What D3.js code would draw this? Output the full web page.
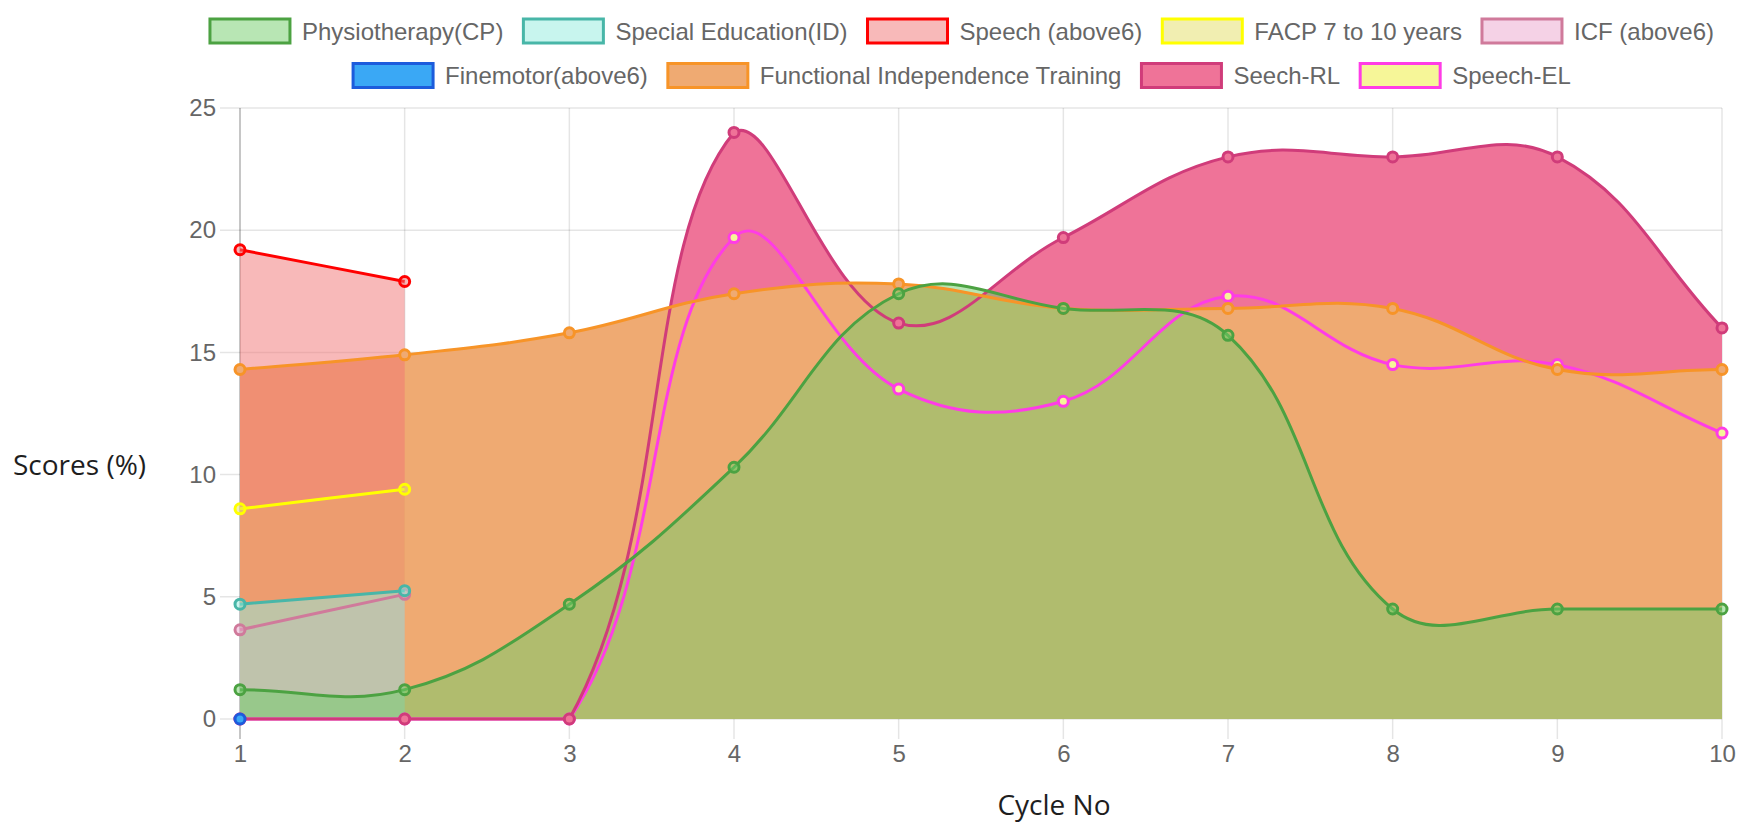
<!DOCTYPE html>
<html>
<head>
<meta charset="utf-8">
<script src="https://cdn.jsdelivr.net/npm/d3@7"></script>
<style>
  body { margin: 0; background: #fff; }
  svg text { font-family: "Liberation Sans", Arial, Helvetica, sans-serif; }
  .title { font-family: "Open Sans", "Noto Sans", sans-serif !important; font-size: 28px; fill: #1e1e1e; }
</style>
</head>
<body>
<div id="chart"></div>
<script>
// Chart values
const cycles = [1, 2, 3, 4, 5, 6, 7, 8, 9, 10];
const physiotherapyCP = [1.2, 1.2, 4.7, 10.3, 17.4, 16.8, 15.7, 4.5, 4.5, 4.5];
const specialEducationID = [4.7, 5.25];
const speechAbove6 = [19.2, 17.9];
const facp7to10 = [8.6, 9.4];
const icfAbove6 = [3.65, 5.1];
const finemotorAbove6 = [0];
const functionalIndependence = [14.3, 14.9, 15.8, 17.4, 17.8, 16.8, 16.8, 16.8, 14.3, 14.3];
const seechRL = [0, 0, 0, 24, 16.2, 19.7, 23, 23, 23, 16];
const speechEL = [0, 0, 0, 19.7, 13.5, 13, 17.3, 14.5, 14.5, 11.7];
const yTicks = [0, 5, 10, 15, 20, 25];

// Series labels + styling
const series = [
  { label: "Physiotherapy(CP)", values: physiotherapyCP, stroke: "rgb(76,162,66)", fill: "rgba(113,205,105,0.5)" },
  { label: "Special Education(ID)", values: specialEducationID, stroke: "rgb(72,182,168)", fill: "rgba(145,235,221,0.5)" },
  { label: "Speech (above6)", values: speechAbove6, stroke: "#ff0000", fill: "rgba(241,115,115,0.5)" },
  { label: "FACP 7 to 10 years", values: facp7to10, stroke: "#ffff00", fill: "rgba(227,222,100,0.5)" },
  { label: "ICF (above6)", values: icfAbove6, stroke: "rgb(208,122,155)", fill: "rgba(235,165,205,0.5)" },
  { label: "Finemotor(above6)", values: finemotorAbove6, stroke: "rgb(28,92,220)", fill: "rgb(58,168,245)" },
  { label: "Functional Independence Training", values: functionalIndependence, stroke: "rgb(247,148,40)", fill: "rgb(239,170,114)" },
  { label: "Seech-RL", values: seechRL, stroke: "rgb(208,60,122)", fill: "rgb(239,115,152)" },
  { label: "Speech-EL", values: speechEL, stroke: "rgb(255,60,230)", fill: "rgb(246,246,152)" }
];

const width = 1743;
const height = 822;
const area = { left: 240, right: 1722, top: 108, bottom: 719 };
const tension = 0.4;

const svg = d3.select("#chart")
  .append("svg")
  .attr("width", width)
  .attr("height", height);

const x = d3.scaleLinear().domain([1, 10]).range([area.left, area.right]);
const y = d3.scaleLinear().domain([0, 25]).range([area.bottom, area.top]);

// Grid lines
const grid = svg.append("g");
grid.selectAll(".vgrid")
  .data(cycles)
  .enter()
  .append("line")
  .attr("x1", d => x(d)).attr("x2", d => x(d))
  .attr("y1", area.top).attr("y2", area.bottom + 20)
  .attr("stroke", (d, i) => i === 0 ? "rgba(0,0,0,0.3)" : "rgba(0,0,0,0.1)")
  .attr("stroke-width", 1.5);
grid.selectAll(".hgrid")
  .data(yTicks)
  .enter()
  .append("line")
  .attr("x1", area.left - 20).attr("x2", area.right)
  .attr("y1", d => y(d)).attr("y2", d => y(d))
  .attr("stroke", "rgba(0,0,0,0.1)")
  .attr("stroke-width", 1.5);

// Axes (labels only, grid drawn above)
const yAxis = svg.append("g")
  .attr("transform", `translate(${area.left},0)`)
  .call(d3.axisLeft(y).tickValues(yTicks).tickSize(20).tickPadding(4));
const xAxis = svg.append("g")
  .attr("transform", `translate(0,${area.bottom})`)
  .call(d3.axisBottom(x).tickValues(cycles).tickSize(20).tickPadding(6));
[yAxis, xAxis].forEach(ax => {
  ax.select(".domain").remove();
  ax.selectAll("line").remove();
  ax.selectAll("text")
    .attr("fill", "#666")
    .style("font-size", "24px");
});

// Chart.js style spline (tension 0.4, control points capped to chart area)
function splinePath(values, closeArea) {
  const pts = values.map((v, i) => [x(cycles[i]), y(v)]);
  const cap = (px, py) => [
    Math.max(area.left, Math.min(area.right, px)),
    Math.max(area.top, Math.min(area.bottom, py))
  ];
  const ctrl = pts.map((p, i) => {
    const prev = pts[i - 1] || p;
    const next = pts[i + 1] || p;
    const d01 = Math.hypot(p[0] - prev[0], p[1] - prev[1]);
    const d12 = Math.hypot(next[0] - p[0], next[1] - p[1]);
    let s01 = d01 / (d01 + d12);
    let s12 = d12 / (d01 + d12);
    if (isNaN(s01)) s01 = 0;
    if (isNaN(s12)) s12 = 0;
    const fa = tension * s01, fb = tension * s12;
    return {
      prev: cap(p[0] - fa * (next[0] - prev[0]), p[1] - fa * (next[1] - prev[1])),
      next: cap(p[0] + fb * (next[0] - prev[0]), p[1] + fb * (next[1] - prev[1]))
    };
  });
  const path = d3.path();
  path.moveTo(pts[0][0], pts[0][1]);
  for (let i = 1; i < pts.length; i++) {
    path.bezierCurveTo(ctrl[i - 1].next[0], ctrl[i - 1].next[1],
      ctrl[i].prev[0], ctrl[i].prev[1], pts[i][0], pts[i][1]);
  }
  if (closeArea) {
    path.lineTo(pts[pts.length - 1][0], y(0));
    path.lineTo(pts[0][0], y(0));
    path.closePath();
  }
  return path.toString();
}

// Fills first (last dataset at the bottom), then lines and points
const drawOrder = series.slice().reverse();

svg.append("g")
  .selectAll("path")
  .data(drawOrder.filter(s => s.values.length > 1))
  .enter()
  .append("path")
  .attr("d", s => splinePath(s.values, true))
  .attr("fill", s => s.fill);

const sets = svg.append("g")
  .selectAll("g")
  .data(drawOrder)
  .enter()
  .append("g");

sets.filter(s => s.values.length > 1)
  .append("path")
  .attr("d", s => splinePath(s.values, false))
  .attr("fill", "none")
  .attr("stroke", s => s.stroke)
  .attr("stroke-width", 3);

sets.selectAll("circle")
  .data(s => s.values.map((v, i) => ({ v, i, s })))
  .enter()
  .append("circle")
  .attr("cx", d => x(cycles[d.i]))
  .attr("cy", d => y(d.v))
  .attr("r", 5)
  .attr("fill", d => d.s.fill)
  .attr("stroke", d => d.s.stroke)
  .attr("stroke-width", 3);

// Legend
const boxW = 80, boxH = 24, fontSize = 24, pad = 20, maxW = 1563, legendCenter = 962;
const legend = svg.append("g");
const items = legend.selectAll("g")
  .data(series)
  .enter()
  .append("g");
items.append("rect")
  .attr("width", boxW).attr("height", boxH)
  .attr("fill", d => d.fill)
  .attr("stroke", d => d.stroke)
  .attr("stroke-width", 3);
items.append("text")
  .attr("x", boxW + fontSize / 2)
  .attr("y", boxH / 2)
  .attr("dy", "0.36em")
  .attr("fill", "#666")
  .style("font-size", fontSize + "px")
  .text(d => d.label);

// wrap into rows
const rows = [[]];
let rowW = 0;
items.each(function() {
  const w = boxW + fontSize / 2 + this.querySelector("text").getComputedTextLength();
  const cur = rows[rows.length - 1];
  if (cur.length && rowW + pad + w > maxW) {
    rows.push([]);
    rowW = 0;
  }
  rows[rows.length - 1].push({ node: this, w });
  rowW += (rows[rows.length - 1].length > 1 ? pad : 0) + w;
});
rows.forEach((row, r) => {
  const total = d3.sum(row, d => d.w) + pad * (row.length - 1);
  let cx = legendCenter - total / 2;
  row.forEach(it => {
    d3.select(it.node).attr("transform", `translate(${cx},${19 + r * 44.5})`);
    cx += it.w + pad;
  });
});

// Axis titles
svg.append("text")
  .attr("class", "title")
  .attr("x", 13)
  .attr("y", 475)
  .text("Scores (%)");
svg.append("text")
  .attr("class", "title")
  .attr("x", 1054)
  .attr("y", 815)
  .attr("text-anchor", "middle")
  .text("Cycle No");
</script>
</body>
</html>
